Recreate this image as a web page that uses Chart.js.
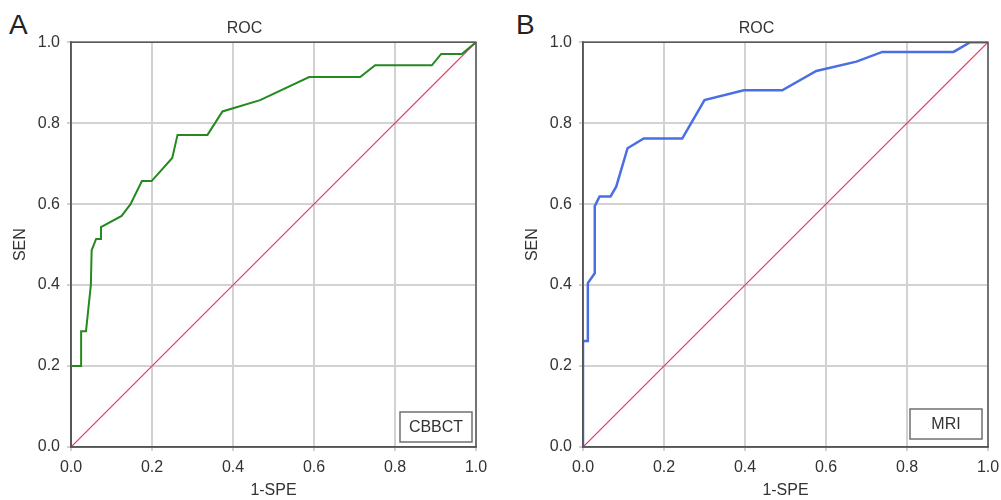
<!DOCTYPE html>
<html lang="en">
<head>
    <meta charset="UTF-8">
    <title>ROC curves: CBBCT vs MRI</title>
    <style>
        body {
            margin: 0;
            background: #fff;
            font-family: "Liberation Sans", Arial, sans-serif;
        }
        .wrap {
            position: relative;
            width: 1001px;
            height: 500px;
        }
        .panel {
            position: absolute;
            top: 0;
        }
        .tag {
            position: absolute;
            top: 11px;
            font-size: 28px;
            line-height: 28px;
            color: #222;
        }
    </style>
    <script src="https://cdn.jsdelivr.net/npm/chart.js"></script>
</head>
<body>
    <div class="wrap">
        <div class="tag" style="left: 9px;">A</div>
        <div class="tag" style="left: 516px;">B</div>
        <canvas id="rocA" class="panel" style="left: 0;" width="489" height="500"></canvas>
        <canvas id="rocB" class="panel" style="left: 512px;" width="489" height="500"></canvas>
    </div>

    <script>
        // CBBCT curve (1 - specificity, sensitivity)
        const cbbctFpr = [0, 0, 0.025, 0.025, 0.037, 0.049, 0.051, 0.062, 0.074, 0.074, 0.125, 0.147, 0.175, 0.199,
                          0.250, 0.263, 0.337, 0.374, 0.467, 0.588, 0.714, 0.751, 0.891, 0.914, 0.965, 1];
        const cbbctTpr = [0, 0.2, 0.2, 0.286, 0.286, 0.4, 0.486, 0.514, 0.514, 0.543, 0.571, 0.6, 0.657, 0.657,
                          0.714, 0.771, 0.771, 0.829, 0.857, 0.914, 0.914, 0.943, 0.943, 0.971, 0.971, 1];

        // MRI curve
        const mriFpr = [0, 0, 0.012, 0.012, 0.029, 0.029, 0.041, 0.068, 0.082, 0.110, 0.150, 0.245, 0.300,
                        0.397, 0.492, 0.576, 0.675, 0.739, 0.915, 0.956, 1];
        const mriTpr = [0, 0.262, 0.262, 0.405, 0.429, 0.595, 0.619, 0.619, 0.643, 0.738, 0.762, 0.762, 0.857,
                        0.881, 0.881, 0.929, 0.952, 0.976, 0.976, 1, 1];

        // chance line
        const chanceX = [0, 1];
        const chanceY = [0, 1];

        const tickStep = 0.2;

        const textColor = '#333';
        const gridColor = '#d2d2d2';
        const frameColor = '#555';

        function toPoints(xs, ys) {
            return xs.map((x, i) => ({ x: x, y: ys[i] }));
        }

        // Frame on all four sides plus the boxed label in the lower right corner
        const framePlugin = {
            id: 'frameBox',
            afterDraw(chart, args, opts) {
                const ctx = chart.ctx;
                const a = chart.chartArea;
                ctx.save();
                ctx.strokeStyle = frameColor;
                ctx.lineWidth = 1.5;
                ctx.strokeRect(a.left, a.top, a.right - a.left, a.bottom - a.top);

                const w = 72, h = 30;
                const bx = a.right - opts.right - w;
                const by = a.bottom - opts.bottom - h;
                ctx.fillStyle = '#fff';
                ctx.fillRect(bx, by, w, h);
                ctx.strokeStyle = '#707070';
                ctx.lineWidth = 1.5;
                ctx.strokeRect(bx, by, w, h);
                ctx.fillStyle = textColor;
                ctx.font = '16px "Liberation Sans", Arial, sans-serif';
                ctx.textAlign = 'center';
                ctx.textBaseline = 'middle';
                ctx.fillText(chart.data.datasets[0].label, bx + w / 2, by + h / 2 + 1);
                ctx.restore();
            }
        };

        function makeRoc(id, label, xs, ys, color, width, boxRight, boxBottom) {
            const ctx = document.getElementById(id).getContext('2d');
            return new Chart(ctx, {
                type: 'scatter',
                data: {
                    datasets: [{
                        label: label,
                        data: toPoints(xs, ys),
                        showLine: true,
                        borderColor: color,
                        borderWidth: width,
                        pointRadius: 0,
                        tension: 0
                    }, {
                        label: 'chance',
                        data: toPoints(chanceX, chanceY),
                        showLine: true,
                        borderColor: '#e8375e',
                        borderWidth: 1.2,
                        pointRadius: 0
                    }]
                },
                options: {
                    responsive: false,
                    animation: false,
                    layout: { padding: 0 },
                    plugins: {
                        legend: { display: false },
                        tooltip: { enabled: false },
                        title: {
                            display: true,
                            text: 'ROC',
                            color: textColor,
                            font: { family: '"Liberation Sans", Arial, sans-serif', size: 16, weight: 'normal' },
                            padding: { top: 19, bottom: 4 }
                        },
                        frameBox: { right: boxRight, bottom: boxBottom }
                    },
                    scales: {
                        x: {
                            type: 'linear',
                            min: 0,
                            max: 1,
                            // fixed axis height and right margin so both panels line up
                            afterFit: s => { s.height = 53; s.paddingRight = 13; },
                            ticks: {
                                stepSize: tickStep,
                                color: textColor,
                                padding: 7,
                                font: { family: '"Liberation Sans", Arial, sans-serif', size: 16 },
                                callback: v => v.toFixed(1)
                            },
                            grid: { color: gridColor, lineWidth: 2, tickLength: 4 },
                            border: { color: frameColor, width: 1.5 },
                            title: {
                                display: true,
                                text: '1-SPE',
                                color: textColor,
                                font: { family: '"Liberation Sans", Arial, sans-serif', size: 16 },
                                padding: { top: 0, bottom: 0 }
                            }
                        },
                        y: {
                            type: 'linear',
                            min: 0,
                            max: 1,
                            afterFit: s => { s.width = 71; },
                            ticks: {
                                stepSize: tickStep,
                                color: textColor,
                                padding: 7,
                                font: { family: '"Liberation Sans", Arial, sans-serif', size: 16 },
                                callback: v => v.toFixed(1)
                            },
                            grid: { color: gridColor, lineWidth: 2, tickLength: 4 },
                            border: { color: frameColor, width: 1.5 },
                            title: {
                                display: true,
                                text: 'SEN',
                                color: textColor,
                                font: { family: '"Liberation Sans", Arial, sans-serif', size: 16 },
                                padding: { top: 11, bottom: 0 }
                            }
                        }
                    }
                },
                plugins: [framePlugin]
            });
        }

        makeRoc('rocA', 'CBBCT', cbbctFpr, cbbctTpr, '#24891f', 2, 4, 5);
        makeRoc('rocB', 'MRI', mriFpr, mriTpr, '#4a6fe3', 2.5, 6, 8);
    </script>
</body>
</html>
